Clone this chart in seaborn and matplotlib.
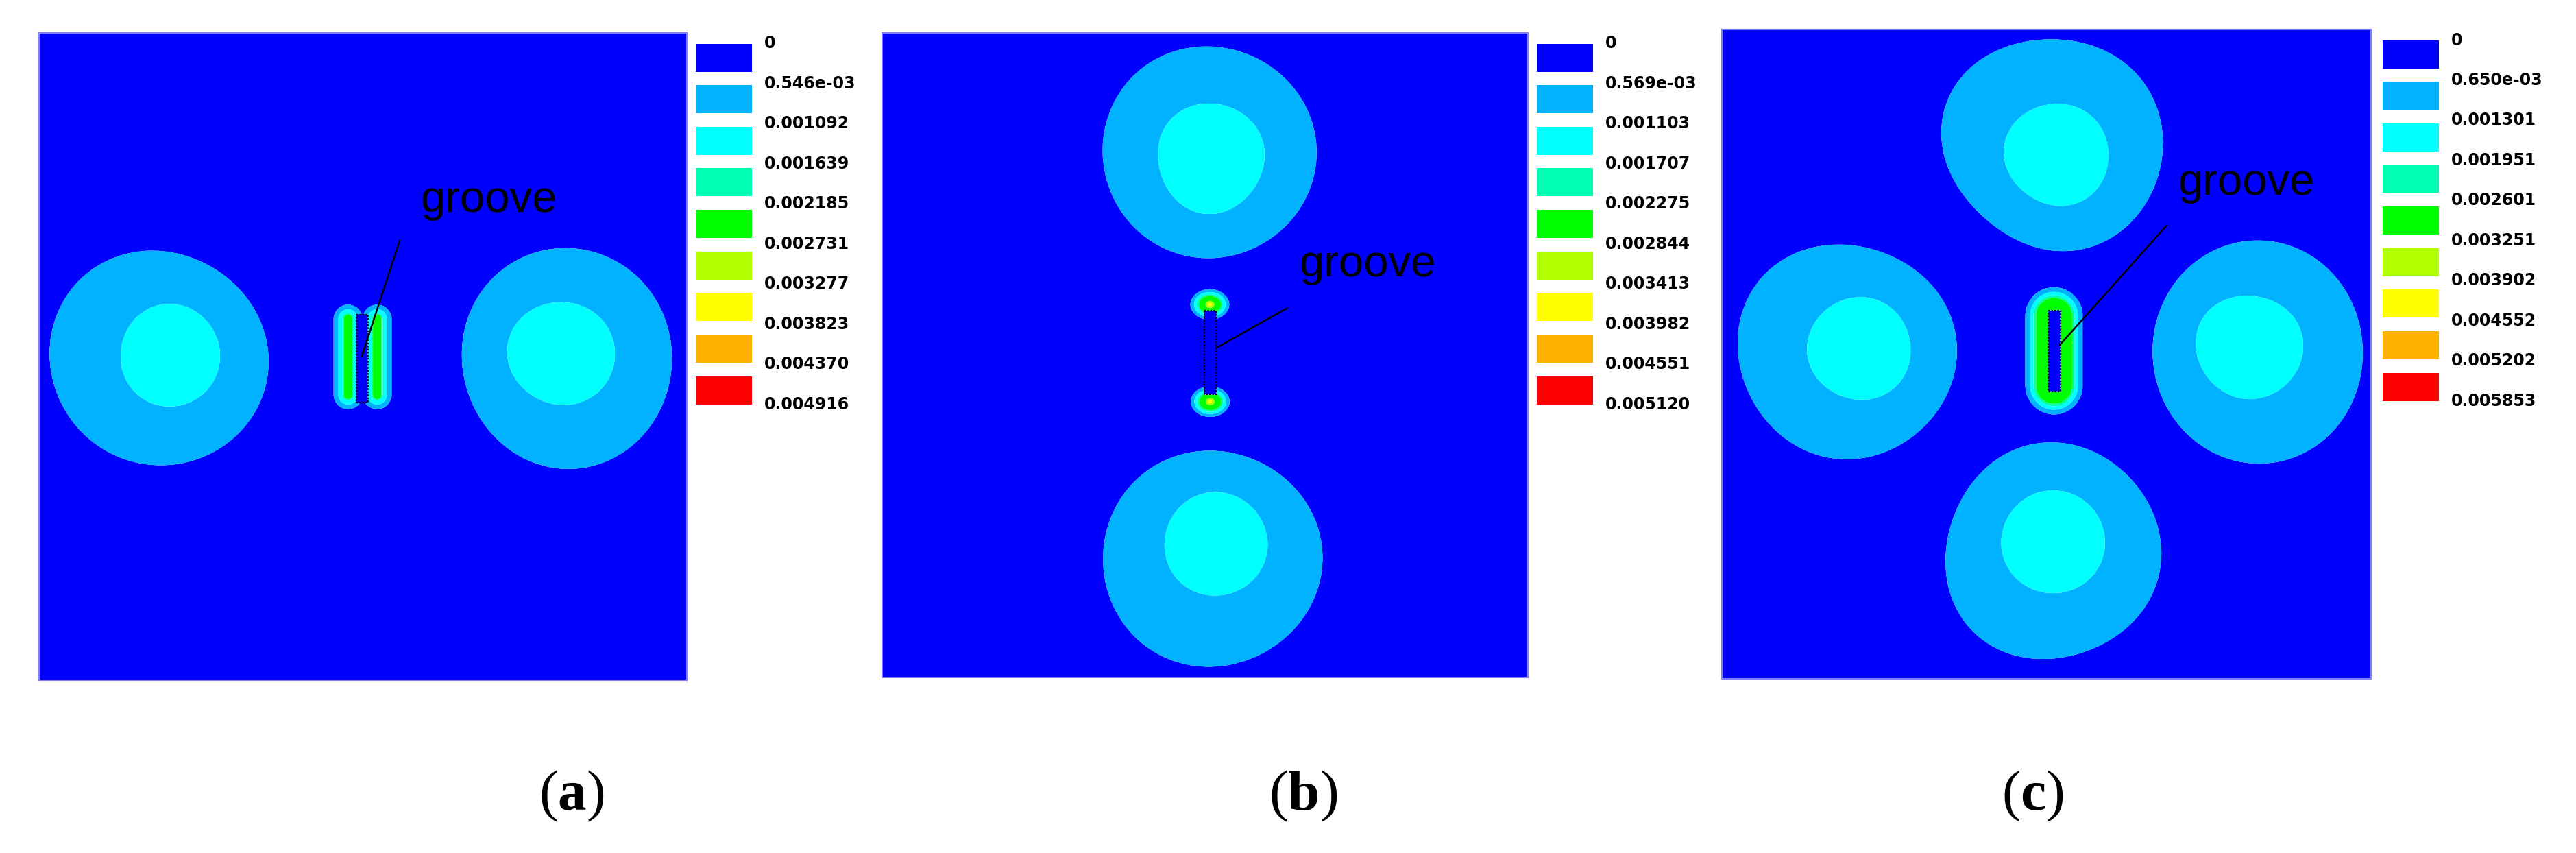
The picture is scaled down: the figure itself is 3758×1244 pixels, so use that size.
import numpy as np
import matplotlib
matplotlib.use("Agg")
import matplotlib.pyplot as plt
from matplotlib.patches import Rectangle
import seaborn as sns

# ------------------------------------------------------------------ data
band_colors = ["#0000FF", "#00B2FF", "#00FFFF", "#00FFB2", "#00FF00",
               "#B2FF00", "#FFFF00", "#FFB200", "#FF0000"]

labels_a = ["0", "0.546e-03", "0.001092", "0.001639", "0.002185", "0.002731",
            "0.003277", "0.003823", "0.004370", "0.004916"]
labels_b = ["0", "0.569e-03", "0.001103", "0.001707", "0.002275", "0.002844",
            "0.003413", "0.003982", "0.004551", "0.005120"]
labels_c = ["0", "0.650e-03", "0.001301", "0.001951", "0.002601", "0.003251",
            "0.003902", "0.004552", "0.005202", "0.005853"]

panel_names = ["a", "b", "c"]

# blob boundaries: centre (x, y as fraction of plate, y from top) and radius
# of the contour read every 30 degrees (0 = right, counter-clockwise)
a_out_centres = [(0.185, 0.503), (0.815, 0.503)]
a_out_radii = [[0.170, 0.165, 0.163, 0.167, 0.171, 0.172, 0.169, 0.166, 0.163, 0.167, 0.166, 0.170],
               [0.162, 0.164, 0.168, 0.171, 0.170, 0.167, 0.162, 0.163, 0.166, 0.172, 0.168, 0.165]]
a_in_centres = [(0.2005, 0.497), (0.805, 0.495)]
a_in_radii = [[0.083, 0.076, 0.078, 0.081, 0.077, 0.072, 0.080, 0.073, 0.080, 0.082, 0.080, 0.078],
              [0.085, 0.083, 0.080, 0.081, 0.079, 0.083, 0.083, 0.080, 0.078, 0.081, 0.082, 0.084]]

b_out_centres = [(0.507, 0.186), (0.511, 0.816)]
b_out_radii = [[0.165, 0.163, 0.167, 0.164, 0.166, 0.170, 0.165, 0.163, 0.166, 0.164, 0.160, 0.168],
               [0.172, 0.170, 0.166, 0.169, 0.170, 0.168, 0.171, 0.170, 0.168, 0.170, 0.165, 0.168]]
b_in_centres = [(0.509, 0.196), (0.516, 0.793)]
b_in_radii = [[0.084, 0.086, 0.085, 0.088, 0.088, 0.085, 0.084, 0.080, 0.084, 0.086, 0.082, 0.080],
              [0.082, 0.080, 0.080, 0.082, 0.080, 0.078, 0.081, 0.079, 0.080, 0.082, 0.079, 0.081]]

c_out_centres = [(0.507, 0.178), (0.193, 0.497), (0.825, 0.497), (0.509, 0.806)]
c_out_radii = [[0.173, 0.170, 0.170, 0.163, 0.165, 0.178, 0.165, 0.156, 0.153, 0.163, 0.168, 0.173],
               [0.171, 0.164, 0.165, 0.167, 0.170, 0.175, 0.171, 0.160, 0.165, 0.168, 0.160, 0.168],
               [0.162, 0.165, 0.170, 0.172, 0.170, 0.164, 0.162, 0.163, 0.168, 0.172, 0.170, 0.166],
               [0.164, 0.168, 0.168, 0.169, 0.168, 0.163, 0.164, 0.170, 0.172, 0.163, 0.158, 0.170]]
c_in_centres = [(0.515, 0.193), (0.2096, 0.491), (0.812, 0.489), (0.510, 0.789)]
c_in_radii = [[0.081, 0.082, 0.078, 0.081, 0.080, 0.078, 0.085, 0.075, 0.075, 0.081, 0.080, 0.082],
              [0.083, 0.080, 0.080, 0.080, 0.078, 0.075, 0.082, 0.076, 0.078, 0.080, 0.082, 0.082],
              [0.085, 0.082, 0.080, 0.081, 0.080, 0.085, 0.083, 0.078, 0.080, 0.081, 0.080, 0.082],
              [0.081, 0.080, 0.079, 0.080, 0.080, 0.078, 0.081, 0.080, 0.079, 0.080, 0.080, 0.080]]

# groove (x0, x1, y0, y1) and concentration zones next to it
a_groove = (0.490, 0.508, 0.435, 0.571)
b_groove = (0.499, 0.517, 0.431, 0.561)
c_groove = (0.5026, 0.5216, 0.433, 0.558)

a_hot_segments = [(0.477, 0.442, 0.477, 0.559), (0.522, 0.442, 0.522, 0.559)]
a_hot_scale = (1.0, 1.0)
a_hot_bands = [0.022, 0.015, 0.0085, 0.007]
a_hot_core = 0.6

b_hot_segments = [(0.5074, 0.4213, 0.5074, 0.4213), (0.508, 0.572, 0.508, 0.572)]
b_hot_scale = (0.0297, 0.0234)
b_hot_bands = [1.0, 0.82, 0.68, 0.58, 0.22, 0.10]
b_hot_core = 0.3

c_hot_segments = [(0.5116, 0.441, 0.5116, 0.5486)]
c_hot_scale = (1.0, 1.0)
c_hot_bands = [0.0438, 0.0368, 0.0315, 0.0283]
c_hot_core = 0.5

# "groove" callouts: text baseline-left position and leader line (from, to)
a_callout = [(0.589, 0.276), (0.557, 0.320), (0.498, 0.500)]
b_callout = [(0.646, 0.378), (0.627, 0.427), (0.517, 0.489)]
c_callout = [(0.703, 0.255), (0.685, 0.302), (0.5206, 0.4857)]

# ------------------------------------------------------------------ helpers
MAX_HARMONIC = 3


def radius_at(theta, samples):
    """Smooth periodic curve through the read radii (low harmonics only)."""
    s = np.asarray(samples, float)
    n = len(s)
    c = np.fft.rfft(s) / n
    r = np.full(theta.shape, c[0].real)
    for k in range(1, min(len(c), MAX_HARMONIC + 1)):
        r += 2.0 * (c[k] * np.exp(1j * k * theta)).real
    return r


def blob_field(X, Y, c_out, r_out, c_in, r_in, L):
    dxo, dyo = X - c_out[0], Y - c_out[1]
    so = np.hypot(dxo, dyo) / radius_at(np.mod(np.arctan2(-dyo, dxo), 2 * np.pi), r_out)
    dxi, dyi = X - c_in[0], Y - c_in[1]
    si = np.hypot(dxi, dyi) / radius_at(np.mod(np.arctan2(-dyi, dxi), 2 * np.pi), r_in)
    a = np.clip(1 - so, 0, None)
    b = np.clip(si - 1, 0, None)
    mid = L[1] + (L[2] - L[1]) * a / (a + b + 1e-12)
    inner = L[2] + 0.4 * (L[3] - L[2]) * (1 - si)
    outer = L[1] * np.clip(1 - (so - 1) / 0.5, 0, 1)
    return np.where(si <= 1, inner, np.where(so <= 1, mid, outer))


def hot_field(X, Y, seg, scale, bands, core, L):
    x0, y0, x1, y1 = seg
    sx, sy = scale
    px, py = (X - x0) / sx, (Y - y0) / sy
    vx, vy = (x1 - x0) / sx, (y1 - y0) / sy
    vv = vx * vx + vy * vy
    t = np.clip((px * vx + py * vy) / vv, 0, 1) if vv > 0 else 0.0
    d = np.hypot(px - t * vx, py - t * vy)
    k = len(bands)
    xp = [0.0] + list(bands[::-1]) + [2 * bands[0]]
    fp = [L[k] + core * (L[k + 1] - L[k])] + [L[j] for j in range(k, 0, -1)] + [0.0]
    return np.interp(d, xp, fp)


# ------------------------------------------------------------------ figure
sns.set_theme(style="white")
plt.rcParams["font.family"] = ["DejaVu Sans"]
plt.rcParams["mathtext.fontset"] = "custom"
plt.rcParams["mathtext.rm"] = "Liberation Serif"
plt.rcParams["mathtext.bf"] = "Liberation Serif:bold"

W, H = 3758, 1244
fig = plt.figure(figsize=(W / 100, H / 100), dpi=100)
fig.patch.set_facecolor("white")

# plot boxes in pixels: left, top, width, height
boxes = [(57, 48, 945, 944), (1287, 48, 942, 940), (2512, 43, 947, 947)]
legend_gap = [13, 13, 17]
label_x = [834, 1901, 2965]

panel_labels = [labels_a, labels_b, labels_c]
out_centres = [a_out_centres, b_out_centres, c_out_centres]
out_radii = [a_out_radii, b_out_radii, c_out_radii]
in_centres = [a_in_centres, b_in_centres, c_in_centres]
in_radii = [a_in_radii, b_in_radii, c_in_radii]
grooves = [a_groove, b_groove, c_groove]
hot_segments = [a_hot_segments, b_hot_segments, c_hot_segments]
hot_scales = [a_hot_scale, b_hot_scale, c_hot_scale]
hot_bands = [a_hot_bands, b_hot_bands, c_hot_bands]
hot_cores = [a_hot_core, b_hot_core, c_hot_core]
callouts = [a_callout, b_callout, c_callout]

N = 800
xs = np.linspace(0, 1, N)
X, Y = np.meshgrid(xs, xs)

for i in range(3):
    L = [float(v) for v in panel_labels[i]]
    left, top, w, h = boxes[i]
    ax = fig.add_axes([left / W, 1 - (top + h) / H, w / W, h / H])

    V = np.zeros_like(X)
    for co, ro, ci, ri in zip(out_centres[i], out_radii[i], in_centres[i], in_radii[i]):
        V = np.maximum(V, blob_field(X, Y, co, ro, ci, ri, L))
    for seg in hot_segments[i]:
        V = np.maximum(V, hot_field(X, Y, seg, hot_scales[i], hot_bands[i], hot_cores[i], L))
    gx0, gx1, gy0, gy1 = grooves[i]
    V[(X >= gx0) & (X <= gx1) & (Y >= gy0) & (Y <= gy1)] = 0.0

    ax.contourf(xs, xs, V, levels=L, colors=band_colors, antialiased=True)
    ax.add_patch(Rectangle((gx0, gy0), gx1 - gx0, gy1 - gy0, fill=False,
                           ec="black", lw=1.6, ls=(0, (1, 1)), zorder=5))

    (tx, ty), (lx0, ly0), (lx1, ly1) = callouts[i]
    ax.plot([lx0, lx1], [ly0, ly1], color="black", lw=1.8, zorder=6)
    ax.text(tx, ty, "groove", family=["Liberation Sans", "DejaVu Sans"], fontsize=47,
            ha="left", va="baseline", color="black", zorder=6)

    ax.set_xlim(0, 1)
    ax.set_ylim(1, 0)
    ax.set_xticks([])
    ax.set_yticks([])
    for sp in ax.spines.values():
        sp.set_visible(True)
        sp.set_color("#8080FF")
        sp.set_linewidth(1.5)

    # legend
    pitch = 60.65
    ph = 41.0
    span = 8 * pitch + ph
    lax = fig.add_axes([(left + w + legend_gap[i]) / W, 1 - (top + 15.5 + span) / H,
                        82 / W, span / H])
    rows = np.arange(9)
    lax.barh(rows + (ph / pitch) / 2, width=1.0, height=ph / pitch, left=0,
             color=band_colors, edgecolor="none")
    lax.set_xlim(0, 1)
    lax.set_ylim(span / pitch, 0)
    lax.axis("off")
    for j, lab in enumerate(panel_labels[i]):
        lax.text(1.22, j * (span / pitch) / 9, lab, fontsize=17, fontweight="bold",
                 family=["DejaVu Sans"], ha="left", va="center", color="black",
                 clip_on=False)

    fig.text(label_x[i] / W, 1 - 1161 / H, "($\\mathbf{" + panel_names[i] + "}$)",
             family=["Liberation Serif", "DejaVu Serif"], fontsize=60,
             ha="center", va="center", color="black")

fig.savefig("out.png", dpi=100, facecolor="white")
